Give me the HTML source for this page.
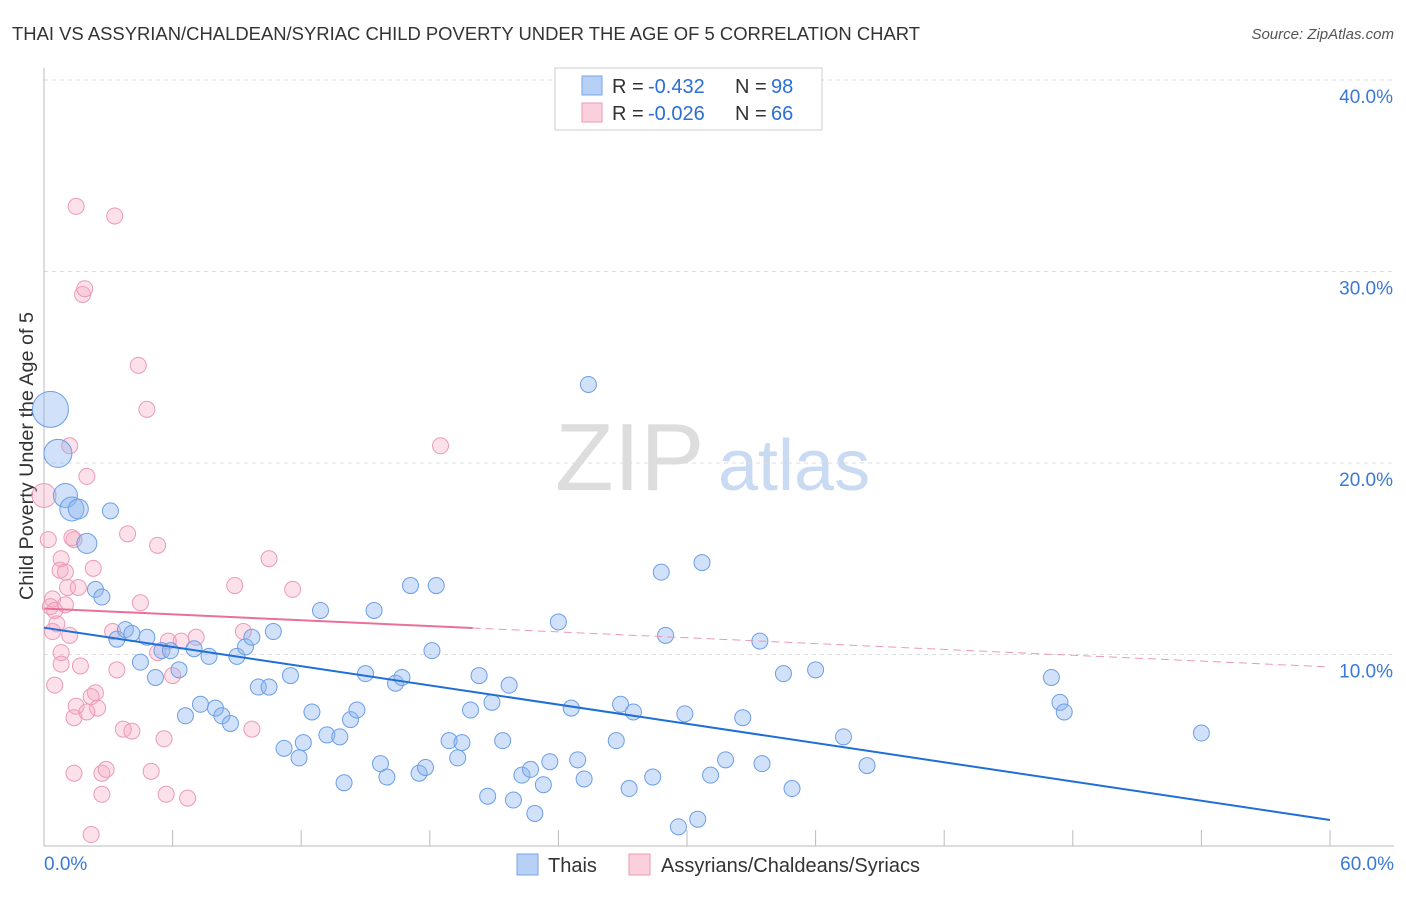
<!DOCTYPE html>
<html><head><meta charset="utf-8"><style>
body{margin:0;background:#fff;font-family:"Liberation Sans",sans-serif}
svg text{font-family:"Liberation Sans",sans-serif}
</style></head><body>
<svg id="c" width="1406" height="892">
<text x="12" y="40" font-size="18" fill="#333" textLength="908" lengthAdjust="spacingAndGlyphs">THAI VS ASSYRIAN/CHALDEAN/SYRIAC CHILD POVERTY UNDER THE AGE OF 5 CORRELATION CHART</text>
<text x="1394" y="39" font-size="15" fill="#555" font-style="italic" text-anchor="end">Source: ZipAtlas.com</text>
<text x="33" y="456" font-size="19" fill="#333" text-anchor="middle" textLength="288" lengthAdjust="spacingAndGlyphs" transform="rotate(-90 33 456)">Child Poverty Under the Age of 5</text>
<text x="555" y="490" font-size="96" fill="#ddd" font-family="Liberation Serif">ZIP</text>
<text x="718" y="490" font-size="72" fill="#c9daf3">atlas</text>
<g id="grid"></g><g id="pts"></g><g id="lines"></g>
<g>
<rect x="555" y="68" width="267" height="62" fill="#fff" stroke="#ccc"/>
<rect x="582" y="76" width="20" height="19" fill="#b7d0f5" stroke="#7aa6e8"/>
<text x="612" y="93" font-size="20" fill="#333">R = </text>
<text x="648" y="93" font-size="20" fill="#2b6fd6">-0.432</text>
<text x="735" y="93" font-size="20" fill="#333">N = </text>
<text x="771" y="93" font-size="20" fill="#2b6fd6">98</text>
<rect x="582" y="103" width="20" height="19" fill="#fbd0dd" stroke="#ee9ab5"/>
<text x="612" y="120" font-size="20" fill="#333">R = </text>
<text x="648" y="120" font-size="20" fill="#2b6fd6">-0.026</text>
<text x="735" y="120" font-size="20" fill="#333">N = </text>
<text x="771" y="120" font-size="20" fill="#2b6fd6">66</text>
</g>
<g>
<rect x="517" y="854" width="21" height="21" fill="#b7d0f5" stroke="#7aa6e8"/>
<text x="548" y="872" font-size="20" fill="#333">Thais</text>
<rect x="629" y="854" width="21" height="21" fill="#fbd0dd" stroke="#ee9ab5"/>
<text x="661" y="872" font-size="20" fill="#333">Assyrians/Chaldeans/Syriacs</text>
</g>
</svg>
<script>
const xTicks=[0,6,12,18,24,30,36,42,48,54,60];
const yTicks=[10,20,30,40];
const thaiX=[0.3,0.65,1.0,1.3,1.6,2.0,3.1,2.4,2.7,3.4,3.8,4.1,4.8,4.5,5.2,5.5,5.9,6.3,6.6,7.0,7.3,7.7,8.0,8.3,8.7,9.0,9.4,9.7,10.0,10.5,10.7,11.2,11.5,11.9,12.1,12.5,12.9,13.2,13.8,14.0,14.3,14.6,15.0,15.4,15.7,16.0,16.4,16.7,17.1,17.5,17.8,18.1,18.3,18.9,19.3,19.5,19.9,20.3,20.7,20.9,21.4,21.7,21.9,22.3,22.7,22.9,23.3,23.6,24.0,24.6,24.9,25.2,25.4,26.7,26.9,27.3,27.5,28.4,28.8,29.0,29.6,29.9,30.5,30.7,31.1,31.8,32.6,33.4,33.5,34.5,34.9,36.0,37.3,38.4,47.0,47.4,47.6,54.0];
const thaiY=[22.8,20.5,18.3,17.6,17.6,15.8,17.5,13.4,13.0,10.8,11.3,11.1,10.9,9.6,8.8,10.2,10.2,9.2,6.8,10.3,7.4,9.9,7.2,6.8,6.4,9.9,10.4,10.9,8.3,8.3,11.2,5.1,8.9,4.6,5.4,7.0,12.3,5.8,5.7,3.3,6.6,7.1,9.0,12.3,4.3,3.6,8.5,8.8,13.6,3.8,4.1,10.2,13.6,5.5,4.6,5.4,7.1,8.9,2.6,7.5,5.5,8.4,2.4,3.7,4.0,1.7,3.2,4.4,11.7,7.2,4.5,3.5,24.1,5.5,7.4,3.0,7.0,3.6,14.3,11.0,1.0,6.9,1.4,14.8,3.7,4.5,6.7,10.7,4.3,9.0,3.0,9.2,5.7,4.2,8.8,7.5,7.0,5.9];
const thaiR=[18,14,12,12,10,10];
const asX=[1.5,3.3,1.8,1.9,4.4,4.8,1.2,18.5,2.0,0,0.2,1.4,1.3,3.9,5.3,0.8,10.5,0.75,1.0,2.3,8.9,11.6,1.1,1.6,0.4,4.5,0.3,1.0,0.5,0.6,0.4,1.2,3.2,9.3,5.8,6.4,7.1,5.3,0.8,0.8,1.7,3.4,6.0,0.5,2.4,2.2,2.5,1.5,1.4,2.0,3.7,4.1,9.7,5.6,1.4,2.7,2.9,5.0,2.7,5.7,6.7,2.2];
const asY=[33.4,32.9,28.8,29.1,25.1,22.8,20.9,20.9,19.3,18.3,16.0,16.0,16.1,16.3,15.7,15.0,15.0,14.4,14.3,14.5,13.6,13.4,13.5,13.5,12.9,12.7,12.5,12.6,12.3,11.6,11.2,11.0,11.2,11.2,10.7,10.7,10.9,10.1,10.1,9.5,9.4,9.2,8.9,8.4,8.0,7.8,7.2,7.3,6.7,7.0,6.1,6.0,6.1,5.6,3.8,3.8,4.0,3.9,2.7,2.7,2.5,0.6];
const thaiLine=[11.4,1.36];
const asLine=[12.4,9.35];
const sx=v=>44+v/60*1286, sy=v=>846-v*19.15;
const NS='http://www.w3.org/2000/svg';
function mk(t,a,p){const e=document.createElementNS(NS,t);for(const k in a)e.setAttribute(k,a[k]);p.appendChild(e);return e;}
const g=document.getElementById('grid');
yTicks.forEach(v=>{
const l=mk('line',{x1:44,x2:1394,y1:sy(v),y2:sy(v),stroke:'#ddd','stroke-dasharray':'4,4'},g);


const t=mk('text',{x:1393,y:sy(v)+23,'font-size':19,fill:'#3b78d8','text-anchor':'end'},g);t.textContent=v.toFixed(1)+'%';


});
mk('line',{x1:44,x2:44,y1:68,y2:846,stroke:'#bbb'},g);
mk('line',{x1:44,x2:1394,y1:846,y2:846,stroke:'#bbb'},g);
xTicks.forEach(v=>{
const l=mk('line',{x1:sx(v),x2:sx(v),y1:830,y2:846,stroke:'#bbb'},g);


});
[[0,'start',44],[60,'end',1394]].forEach(([v,a,x])=>{
const t=mk('text',{x:x,y:870,'font-size':19,fill:'#3b78d8','text-anchor':a},g);t.textContent=v.toFixed(1)+'%';


});
const p=document.getElementById('pts');
asX.forEach((x,i)=>{
const c=mk('circle',{cx:sx(x),cy:sy(asY[i]),r:i==9?12:8,fill:'rgba(246,170,196,0.35)',stroke:'#eb9ab6','stroke-width':1},p);


});
thaiX.forEach((x,i)=>{
const c=mk('circle',{cx:sx(x),cy:sy(thaiY[i]),r:thaiR[i]||8,fill:'rgba(140,180,240,0.4)',stroke:'#6b9fe6','stroke-width':1},p);


});
const L=document.getElementById('lines');
const bl=mk('line',{x1:sx(0),y1:sy(thaiLine[0]),x2:sx(60),y2:sy(thaiLine[1]),stroke:'#1f6fd6','stroke-width':2},L);


const ay=x=>asLine[0]+(asLine[1]-asLine[0])*x/60;
const pl=mk('line',{x1:sx(0),y1:sy(ay(0)),x2:sx(20),y2:sy(ay(20)),stroke:'#e8709a','stroke-width':2},L);


const pd=mk('line',{x1:sx(20),y1:sy(ay(20)),x2:sx(60),y2:sy(ay(60)),stroke:'#eb9ab6','stroke-width':1,'stroke-dasharray':'8,5'},L);


</script>
</body></html>
